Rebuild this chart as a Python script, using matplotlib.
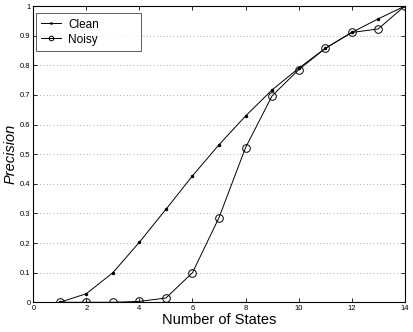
import numpy as np
import matplotlib.pyplot as plt

plt.rcParams['font.family'] = ['Liberation Sans', 'DejaVu Sans']

# data
states = [1, 2, 3, 4, 5, 6, 7, 8, 9, 10, 11, 12, 13, 14]
clean = [0.0, 0.029, 0.10, 0.203, 0.314, 0.427, 0.532, 0.629, 0.717, 0.79, 0.857, 0.911, 0.957, 1.0]
noisy = [0.0, 0.0, 0.0, 0.003, 0.0145, 0.10, 0.286, 0.522, 0.697, 0.785, 0.857, 0.911, 0.923, 1.0]

xticks = [0, 2, 4, 6, 8, 10, 12, 14]
yticks = [0, 0.1, 0.2, 0.3, 0.4, 0.5, 0.6, 0.7, 0.8, 0.9, 1]
ytick_labels = ['0', '0.1', '0.2', '0.3', '0.4', '0.5', '0.6', '0.7', '0.8', '0.9', '1']

fig = plt.figure(figsize=(4.14, 3.32), dpi=100)
ax = fig.add_axes([0.0805, 0.0895, 0.897, 0.892])

ax.plot(states, clean, color='black', lw=0.7, marker='.', markersize=3, label='Clean')
ax.plot(states, noisy, color='black', lw=0.7, marker='o', markersize=5.5,
        markerfacecolor='none', markeredgewidth=0.7, label='Noisy')

ax.set_xlim(0, 14)
ax.set_ylim(0, 1)
ax.set_xticks(xticks)
ax.set_xticklabels([str(t) for t in xticks])
ax.set_yticks(yticks)
ax.set_yticklabels(ytick_labels)
ax.tick_params(direction='in', top=True, right=True, labelsize=5.5, length=3,
               width=0.6, pad=2)
ax.yaxis.grid(True, linestyle=(0, (1, 3)), color='#999999', lw=0.6)
for s in ax.spines.values():
    s.set_linewidth(0.8)

ax.set_xlabel('Number of States', fontsize=10.5, labelpad=1)
ax.set_ylabel('Precision', fontsize=10.5, style='italic', labelpad=2)

# legend box sized like the original (a bit wider than its text)
leg = ax.legend(loc='upper left', bbox_to_anchor=(0.007, 0.0, 0.283, 0.976),
                mode='expand', borderaxespad=0, fontsize=8.5, frameon=True,
                fancybox=False, edgecolor='#333333', handlelength=1.7,
                handletextpad=0.6, labelspacing=0.25, borderpad=0.45,
                markerscale=0.6)
leg.get_frame().set_linewidth(0.7)

fig.savefig('out.png', dpi=100)
